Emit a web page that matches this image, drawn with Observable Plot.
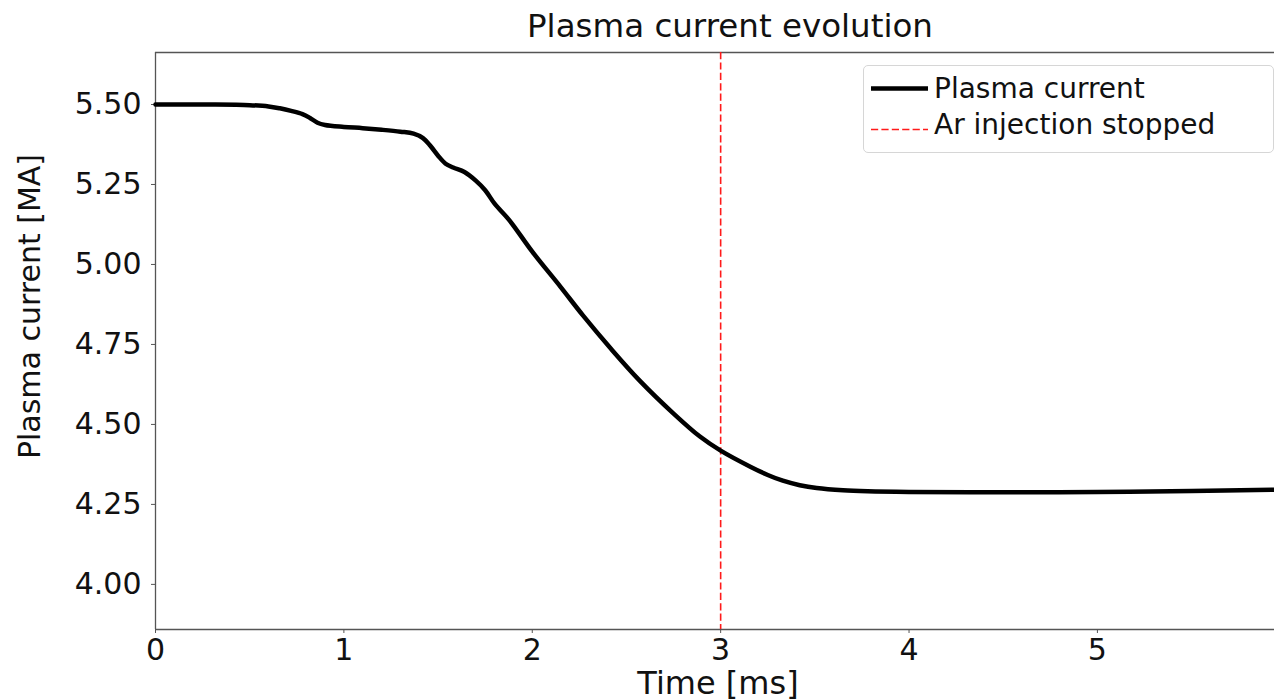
<!DOCTYPE html>
<html>
<head>
<meta charset="utf-8">
<script src="https://cdn.jsdelivr.net/npm/d3@7"></script>
<script src="https://cdn.jsdelivr.net/npm/@observablehq/plot@0.6"></script>
<style>
  html, body { margin: 0; padding: 0; background: #fff; overflow: hidden; }
  body { width: 1274px; height: 699px; position: relative; font-family: "DejaVu Sans", sans-serif; }
  #title { height: 43px; padding-top: 3px; line-height: 46px; font-size: 32.5px; color: #111;
           position: relative; left: 186px; width: 1088px; text-align: center; white-space: nowrap; }
  #legend { position: absolute; left: 863px; top: 65px; width: 409px; height: 86px;
            border: 1px solid #d6d6d6; border-radius: 5px; background: rgba(255,255,255,0.85); }
</style>
</head>
<body>
<div id="title">Plasma current evolution</div>
<div id="chart"></div>
<div id="legend"></div>
<script>
// ---- data ----
const timeMs = [0, 0.3, 0.5, 0.6, 0.66, 0.72, 0.78, 0.82, 0.86, 0.9, 1.0, 1.1, 1.2, 1.3, 1.37, 1.42, 1.46, 1.5, 1.54, 1.58, 1.64, 1.7, 1.75, 1.8, 1.88, 2.0, 2.15, 2.27, 2.42, 2.57, 2.75, 2.89, 3.0, 3.16, 3.25, 3.33, 3.42, 3.51, 3.65, 3.78, 4.0, 4.5, 5.0, 5.5, 5.94];
const currentMA = [5.500, 5.500, 5.498, 5.494, 5.488, 5.480, 5.470, 5.458, 5.443, 5.436, 5.430, 5.426, 5.421, 5.415, 5.409, 5.395, 5.370, 5.340, 5.315, 5.303, 5.289, 5.262, 5.232, 5.190, 5.137, 5.040, 4.930, 4.840, 4.735, 4.637, 4.534, 4.462, 4.418, 4.367, 4.342, 4.324, 4.310, 4.301, 4.294, 4.291, 4.289, 4.288, 4.289, 4.292, 4.296];
const stopTime = [3];
const xDomain = [0, 5.94];
const yDomain = [3.859, 5.6625];
const xTicks = [0, 1, 2, 3, 4, 5];
const yTicks = [4.00, 4.25, 4.50, 4.75, 5.00, 5.25, 5.50];
const seriesNames = ["Plasma current", "Ar injection stopped"];
const xLabel = "Time [ms]";
const yLabel = "Plasma current [MA]";

const data = timeMs.map((t, i) => ({t, I: currentMA[i]}));
const spine = "#555";
const font = "DejaVu Sans";
const dash = "7.2,3.2";

const plot = Plot.plot({
  width: 1274,
  height: 653,
  marginTop: 6,
  marginBottom: 70,
  marginLeft: 155,
  marginRight: 0,
  style: {fontFamily: font, background: "#fff", color: "#111", overflow: "visible"},
  x: {domain: xDomain},
  y: {domain: yDomain},
  marks: [
    Plot.axisY({ticks: yTicks, tickFormat: d3.format(".2f"), tickSize: 4, tickPadding: 10, fontSize: 30, label: null, stroke: spine, fill: "#111"}),
    Plot.axisX({ticks: xTicks, tickFormat: d3.format("d"), tickSize: 4, tickPadding: 5, fontSize: 30, label: null, stroke: spine, fill: "#111"}),
    Plot.ruleX([xDomain[0]], {stroke: spine, strokeWidth: 1.3}),
    Plot.ruleY(yDomain, {stroke: spine, strokeWidth: 1.3}),
    Plot.ruleX(stopTime, {stroke: "#ff1a1a", strokeWidth: 1.6, strokeDasharray: dash}),
    Plot.line(data, {x: "t", y: "I", stroke: "#000", strokeWidth: 4.5, curve: "catmull-rom", strokeLinejoin: "round"}),
    Plot.text([yLabel], {frameAnchor: "left", textAnchor: "middle", rotate: -90, dx: -125, dy: -34.5, fontSize: 30, fill: "#111"}),
    Plot.text([xLabel], {frameAnchor: "bottom", textAnchor: "middle", lineAnchor: "bottom", dx: 3, dy: 64, fontSize: 32, fill: "#111"})
  ]
});
document.getElementById("chart").appendChild(plot);

// legend
const lg = d3.select("#legend").append("svg").attr("width", 409).attr("height", 86)
  .style("font-family", font);
const rows = [
  {name: seriesNames[0], y: 22.5, stroke: "#000", width: 4.5, dash: null, base: 31.5},
  {name: seriesNames[1], y: 63.5, stroke: "#ff1a1a", width: 1.6, dash: dash, base: 67.5}
];
rows.forEach(r => {
  lg.append("line").attr("x1", 7).attr("x2", 64).attr("y1", r.y).attr("y2", r.y)
    .attr("stroke", r.stroke).attr("stroke-width", r.width).attr("stroke-dasharray", r.dash);
  lg.append("text").attr("x", 70).attr("y", r.base).attr("font-size", 28).attr("fill", "#111").text(r.name);
});
</script>
</body>
</html>
